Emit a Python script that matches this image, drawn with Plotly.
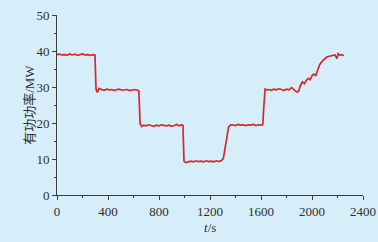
import plotly.graph_objects as go

# time (s) and active power (MW)
t_s = [0, 20, 40, 60, 80, 100, 120, 140, 160, 180, 200, 220, 240, 260, 280, 298,
       306, 316, 330, 350, 370, 390, 410, 430, 450, 470, 490, 510, 530, 550, 570, 590, 610, 632,
       642, 652, 664, 680, 700, 720, 740, 760, 780, 800, 820, 840, 860, 880, 900, 920, 940, 960, 978,
       988, 996, 1010, 1030, 1050, 1070, 1090, 1110, 1130, 1150, 1170, 1190, 1210, 1230, 1250, 1270, 1290,
       1305, 1318, 1332, 1346, 1360, 1380, 1400, 1420, 1440, 1460, 1480, 1500, 1520, 1540, 1560, 1580, 1600, 1614,
       1622, 1632, 1645, 1660, 1680, 1700, 1720, 1740, 1760, 1780, 1800, 1820, 1840, 1860, 1880, 1895,
       1910, 1925, 1940, 1955, 1970, 1985, 2000, 2015, 2030, 2045, 2060, 2075, 2090, 2105, 2120, 2140,
       2160, 2180, 2195, 2205, 2220, 2235, 2250]
power_mw = [39.0, 39.1, 38.9, 39.0, 38.8, 39.2, 38.9, 39.1, 38.8, 39.0, 39.2, 38.9, 39.0, 38.8, 39.0, 38.9,
            29.4, 28.5, 29.6, 29.3, 29.1, 29.4, 29.2, 29.3, 29.0, 29.3, 29.4, 29.1, 29.2, 29.3, 29.0, 29.2, 29.3, 29.1,
            28.9, 19.8, 19.0, 19.4, 19.2, 19.5, 19.3, 19.1, 19.4, 19.2, 19.5, 19.3, 19.2, 19.4, 19.1, 19.3, 19.6, 19.2, 19.5,
            19.3, 9.4, 9.0, 9.3, 9.4, 9.2, 9.5, 9.3, 9.4, 9.2, 9.5, 9.3, 9.4, 9.2, 9.5, 9.3, 9.6,
            10.2, 13.0, 16.8, 18.9, 19.4, 19.5, 19.3, 19.6, 19.4, 19.5, 19.3, 19.5, 19.4, 19.6, 19.3, 19.5, 19.4, 19.5,
            24.5, 29.4, 29.2, 29.3, 29.1, 29.4, 29.2, 29.5, 29.3, 29.0, 29.4, 29.2, 29.8, 29.1, 28.6, 28.8,
            30.5, 31.4, 30.9, 31.8, 32.4, 32.0, 33.1, 33.6, 33.2, 34.8, 36.2, 36.9, 37.6, 38.0, 38.4, 38.6,
            38.7, 38.9, 37.9, 39.3, 38.8, 39.0, 38.7]

x_ticks = [0, 400, 800, 1200, 1600, 2000, 2400]
y_ticks = [0, 10, 20, 30, 40, 50]
y_title = "有功功率/MW"
x_title = "<i>t</i>/s"

bg = "#d6eef9"
axis_col = "#3a3a3a"
txt_col = "#2e2e2e"
font_fam = "Liberation Serif, Noto Sans CJK SC, serif"

fig = go.Figure()
fig.add_trace(go.Scatter(x=t_s, y=power_mw, mode="lines",
                         line=dict(color="#d8262f", width=1.7), showlegend=False))

fig.update_layout(
    width=378, height=242,
    paper_bgcolor=bg, plot_bgcolor=bg,
    margin=dict(l=57, r=15, t=15, b=47, autoexpand=False),
    font=dict(family=font_fam, size=13, color=txt_col),
    annotations=[
        dict(text=y_title, xref="paper", yref="paper", x=-0.092, y=0.5,
             textangle=-90, showarrow=False, xanchor="center", yanchor="middle",
             font=dict(size=13, color=txt_col)),
        dict(text=x_title, xref="paper", yref="paper", x=0.5, y=-0.183,
             showarrow=False, xanchor="center", yanchor="middle",
             font=dict(size=13, color=txt_col)),
    ],
)
fig.update_xaxes(
    range=[0, 2400], tickvals=x_ticks, ticktext=[str(v) for v in x_ticks],
    showgrid=False, zeroline=False, showline=True, linecolor=axis_col, linewidth=1,
    ticks="outside", ticklen=4, tickcolor=axis_col, tickwidth=1,
    minor=dict(dtick=200, ticks="outside", ticklen=2, tickcolor=axis_col, showgrid=False),
    tickfont=dict(size=13), automargin=False,
)
fig.update_yaxes(
    range=[0, 50], tickvals=y_ticks, ticktext=[str(v) for v in y_ticks],
    showgrid=False, zeroline=False, showline=True, linecolor=axis_col, linewidth=1,
    ticks="outside", ticklen=4, tickcolor=axis_col, tickwidth=1,
    minor=dict(dtick=5, ticks="outside", ticklen=2, tickcolor=axis_col, showgrid=False),
    tickfont=dict(size=13), automargin=False,
)

fig.write_html("out.html", config={"displayModeBar": False},
               post_script="document.body.style.margin='0';document.body.style.background='%s';" % bg)
